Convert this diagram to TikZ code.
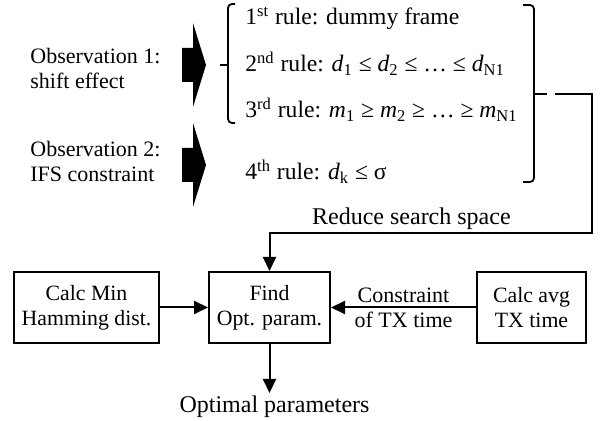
\documentclass[tikz,border=0pt]{standalone}
\usepackage{fontspec}
\setmainfont{Liberation Serif}
\usepackage{tikz}
\usetikzlibrary{arrows.meta,positioning}

\begin{document}
\begin{tikzpicture}[x=0.5pt,y=-0.5pt,
    node distance=24pt,
    every node/.style={font=\fontsize{11}{12.5}\selectfont},
    box/.style={draw,line width=1pt,align=center,minimum height=35.5pt,inner sep=2pt,
        font=\fontsize{10.9}{12.5}\selectfont},
    arrow/.style={-{Triangle[length=7pt,width=6.5pt]},line width=1pt},
    brace/.style={line width=0.9pt,rounded corners=2pt},
    ruletext/.style={anchor=base west,inner sep=0pt,font=\fontsize{11.8}{14}\selectfont},
    obs/.style={anchor=west,align=left,inner sep=0pt}
]
\useasboundingbox (0,0) rectangle (600,421);
% observations and the big arrows
\node[obs] (obs1) at (30,68) {Observation 1:\\shift effect};
\node[obs] (obs2) at (30,161) {Observation 2:\\IFS constraint};
\foreach \y in {65,165}
    \fill (182,\y-17) -- (193,\y-17) -- (193,\y-42) -- (206,\y)
        -- (193,\y+42) -- (193,\y+17) -- (182,\y+17) -- cycle;
% rules
\node[ruletext] (r1) at (245,25) {1\textsuperscript{st} rule: dummy frame};
\node[ruletext] (r2) at (245,72) {2\textsuperscript{nd} rule:
    \textit{d}\textsubscript{1} ≤ \textit{d}\textsubscript{2} ≤ … ≤ \textit{d}\textsubscript{N1}};
\node[ruletext] (r3) at (245,118) {3\textsuperscript{rd} rule:
    \textit{m}\textsubscript{1} ≥ \textit{m}\textsubscript{2} ≥ … ≥ \textit{m}\textsubscript{N1}};
\node[ruletext] (r4) at (245,180) {4\textsuperscript{th} rule: \textit{d}\textsubscript{k} ≤ σ};
% brackets
\draw[brace] (235,4) -- (228,4) -- (228,123) -- (235,123);
\draw[line width=0.9pt] (220,65) -- (228,65);
\draw[brace] (523,5) -- (534,5) -- (534,182) -- (523,182);
\draw[line width=0.9pt] (534,94) -- (547,94);
% blocks
\node[box,minimum width=72.5pt] (ham) at (86.5,307.5) {Calc Min\\Hamming dist.};
\node[box,minimum width=60.5pt,right=24pt of ham] (find) {Find\\Opt. param.};
\node[box,minimum width=54.5pt,right=72.5pt of find] (avg) {Calc avg\\TX time};
\node[below=24.5pt of find,xshift=2.5pt,inner sep=1pt,font=\fontsize{12}{14}\selectfont] (opt)
    {Optimal parameters};
\coordinate (rs) at (555,94);
\coordinate (corner) at (592,233);
\draw[arrow] (rs) -| (corner) -| node[pos=0.28,above,inner sep=1pt,font=\fontsize{12}{14}\selectfont]
    {Reduce search space} (find.north);
\draw[arrow] (ham) -- (find);
\draw[arrow] (avg) -- node[align=center,inner sep=0pt] {Constraint\\of TX time} (find);
\draw[arrow] (find) -- (find |- opt.north);
\end{tikzpicture}
\end{document}
